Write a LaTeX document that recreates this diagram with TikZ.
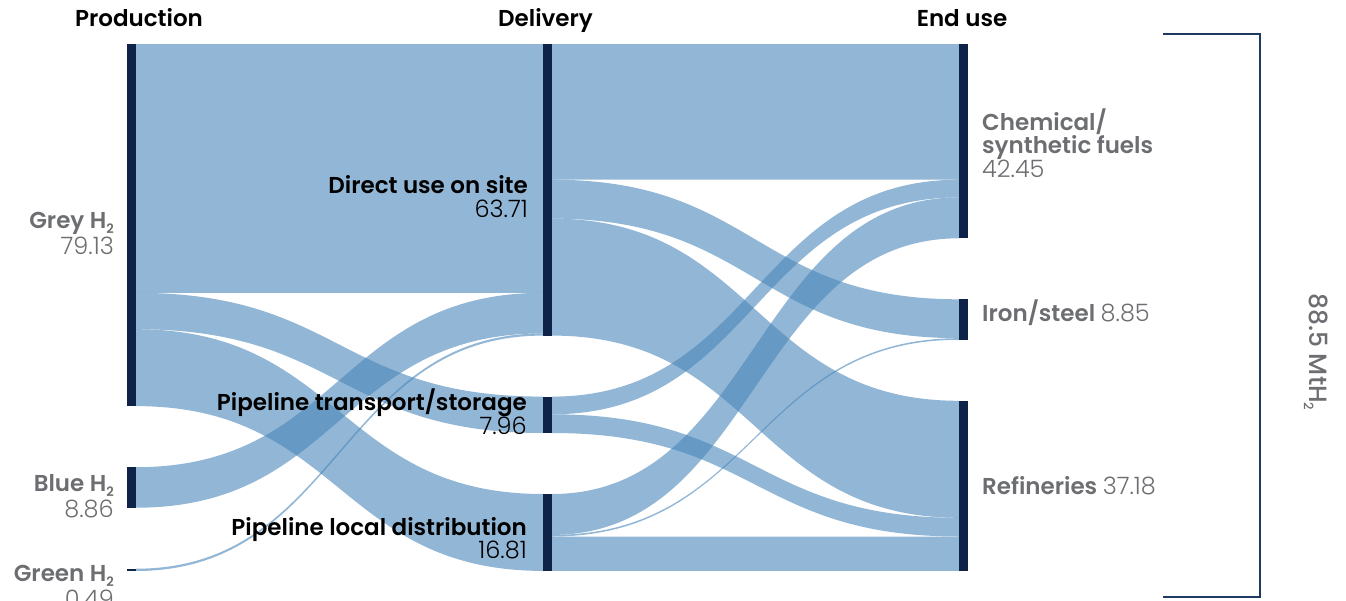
\documentclass[tikz,border=0pt]{standalone}
\usepackage{fontspec}
\setmainfont{Poppins}
\IfFontExistsTF{Poppins SemiBold}{\newfontfamily\medf{Poppins SemiBold}}{\newfontfamily\medf{Poppins}}
\IfFontExistsTF{Poppins Medium}{\newfontfamily\midf{Poppins Medium}}{\newfontfamily\midf{Poppins}}
\IfFontExistsTF{Poppins Light}{\newfontfamily\lightf{Poppins Light}}{\newfontfamily\lightf{Poppins}}
\definecolor{navy}{HTML}{0E2347}
\definecolor{flowc}{RGB}{74,134,186}
\definecolor{lblgrey}{HTML}{6D6E71}
\definecolor{brk}{HTML}{1F3A60}
\newcommand{\bandA}[4]{\fill[flow] (136,#1) .. controls (339.5,#1) and (339.5,#3) .. (543,#3) -- (543,#4) .. controls (339.5,#4) and (339.5,#2) .. (136,#2) -- cycle;}
\newcommand{\bandB}[4]{\fill[flow] (552,#1) .. controls (755.5,#1) and (755.5,#3) .. (959,#3) -- (959,#4) .. controls (755.5,#4) and (755.5,#2) .. (552,#2) -- cycle;}
\newcommand{\sub}[1]{\raisebox{-0.4ex}{\fontsize{13}{13}\selectfont #1}}
\begin{document}
\begin{tikzpicture}[x=1pt,y=-1pt,
  flow/.style={fill=flowc, fill opacity=0.6},
  barnode/.style={fill=navy, draw=none, inner sep=0pt, outer sep=0pt, minimum width=9pt, minimum height=#1},
  txt/.style={inner sep=0pt, font=\fontsize{23}{27}\selectfont},
  hdr/.style={txt, anchor=base, text=black, font=\fontsize{23}{27}\selectfont\medf},
  gname/.style={txt, text=lblgrey, font=\fontsize{23}{27}\selectfont\medf},
  gnum/.style={txt, text=lblgrey, font=\fontsize{24}{27}\selectfont\lightf},
  dname/.style={txt, text=black, font=\fontsize{23}{27}\selectfont\medf},
  dnum/.style={txt, text=black, font=\fontsize{24}{27}\selectfont\lightf}
]
\useasboundingbox (0,0) rectangle (1346,600);
\clip (0,0) rectangle (1346,600);
% flows production -> delivery
\bandA{44}{292.8}{44}{292.8}
\bandA{292.8}{329.2}{396.6}{433.0}
\bandA{329.2}{406.1}{494.0}{570.9}
\bandA{467.2}{507.7}{292.8}{333.4}
\bandA{568.7}{571.0}{333.4}{335.6}
% flows delivery -> end use
\bandB{44}{179.7}{44}{179.7}
\bandB{179.7}{218.6}{299.3}{338.2}
\bandB{218.6}{335.6}{400.8}{517.8}
\bandB{396.6}{414.3}{179.7}{197.4}
\bandB{414.3}{433.0}{517.8}{536.5}
\bandB{494.0}{534.9}{197.4}{238.3}
\bandB{534.9}{536.5}{338.2}{339.8}
\bandB{536.5}{570.9}{536.5}{570.9}
% bars
\node[barnode=362.2pt] (grey) at (131.5,225.1) {};
\node[barnode=40.5pt] (blue) at (131.5,487.45) {};
\node[barnode=2.3pt] (green) at (131.5,569.85) {};
\node[barnode=291.6pt] (direct) at (547.5,189.8) {};
\node[barnode=36.4pt] (transport) at (547.5,414.8) {};
\node[barnode=76.9pt] (local) at (547.5,532.45) {};
\node[barnode=194.3pt] (chem) at (963.5,141.15) {};
\node[barnode=40.5pt] (iron) at (963.5,319.55) {};
\node[barnode=170.2pt] (ref) at (963.5,485.9) {};
% headers
\node[hdr] (hprod) at (139,26) {Production};
\node[hdr] (hdel) at (545.5,26) {Delivery};
\node[hdr] (hend) at (962,26) {End use};
% production labels
\node[gname, anchor=base east] (lgrey) at (114,228) {Grey H\sub{2}};
\node[gnum, anchor=base east] (ngrey) at (114,254) {79.13};
\node[gname, anchor=base east] (lblue) at (114,491) {Blue H\sub{2}};
\node[gnum, anchor=base east] (nblue) at (114,517) {8.86};
\node[gname, anchor=base east] (lgreen) at (114,581) {Green H\sub{2}};
\node[gnum, anchor=base east] (ngreen) at (114,607) {0.49};
% delivery labels
\node[dname, anchor=base east] (ldirect) at (528,193) {Direct use on site};
\node[dnum, anchor=base east] (ndirect) at (528,217) {63.71};
\node[dname, anchor=base east] (ltrans) at (527,410) {Pipeline transport/storage};
\node[dnum, anchor=base east] (ntrans) at (527,434) {7.96};
\node[dname, anchor=base east] (llocal) at (527,535) {Pipeline local distribution};
\node[dnum, anchor=base east] (nlocal) at (527,558) {16.81};
% end use labels
\node[gname, anchor=base west] (lchem1) at (982,130) {Chemical/};
\node[gname, anchor=base west] (lchem2) at (982,153) {synthetic fuels};
\node[gnum, anchor=base west] (nchem) at (982,177) {42.45};
\node[gname, anchor=base west] (liron) at (982,321) {Iron/steel {\fontsize{24}{27}\selectfont\lightf 8.85}};
\node[gname, anchor=base west] (lref) at (982,494) {Refineries {\fontsize{24}{27}\selectfont\lightf 37.18}};
% bracket
\coordinate (bt) at (1163,34);
\coordinate (bb) at (1163,597);
\draw[brk, line width=2pt] (bt) -- (1260,34) -- (1260,597) -- (bb);
\node[gname, rotate=-90, font=\fontsize{25}{28}\selectfont\midf] (total) at (1316,352) {88.5 MtH\sub{2}};
\end{tikzpicture}
\end{document}
